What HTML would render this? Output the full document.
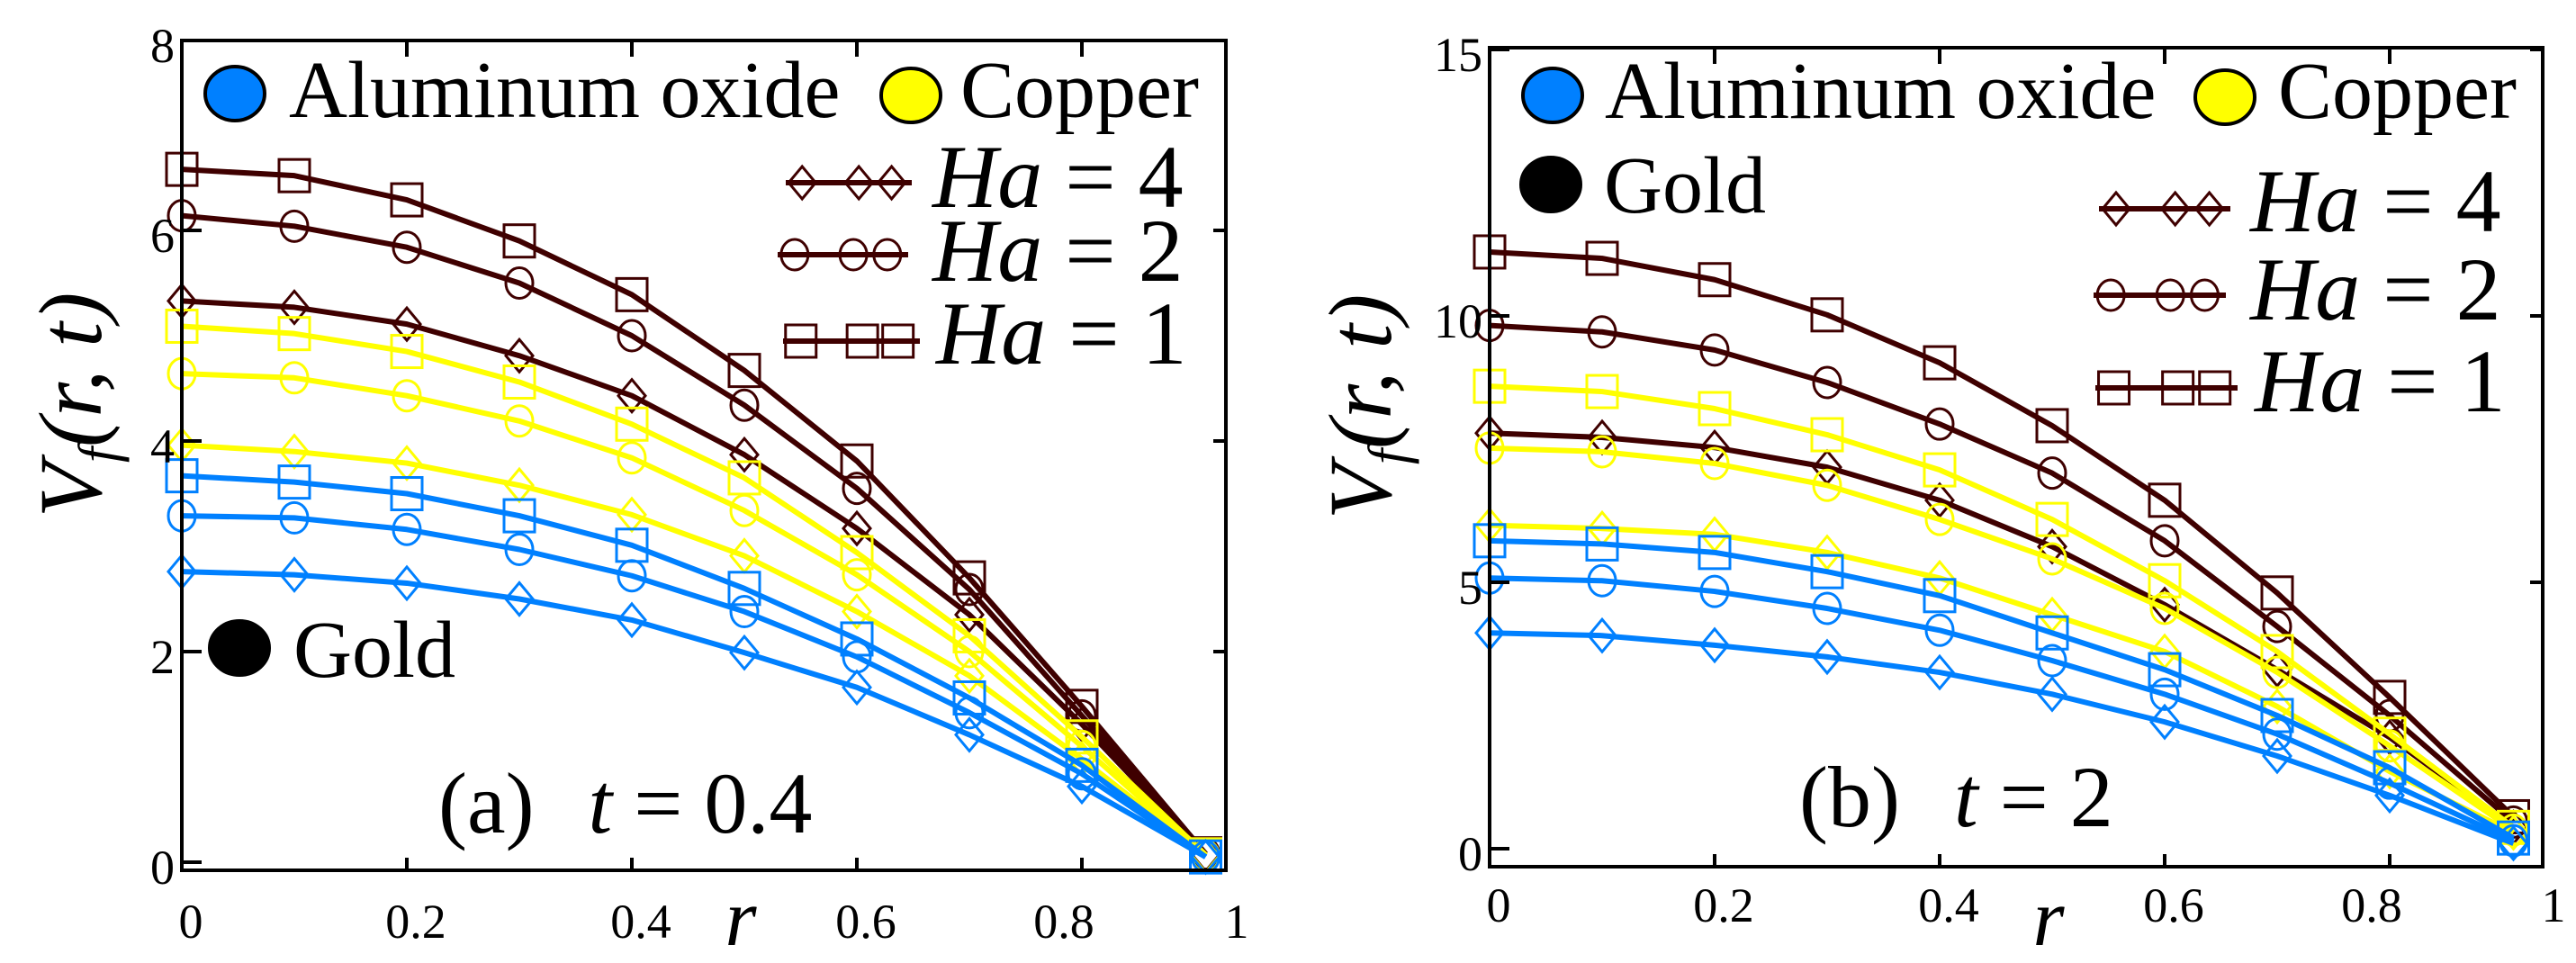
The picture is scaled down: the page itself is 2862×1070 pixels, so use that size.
<!DOCTYPE html>
<html><head><meta charset="utf-8"><style>
html,body{margin:0;padding:0;background:#fff;}
svg{display:block;}
svg, svg text, svg tspan{font-family:"Liberation Serif","DejaVu Serif",serif !important;}
</style></head><body>
<svg id="chart" width="2862" height="1070" viewBox="0 0 2862 1070" xmlns="http://www.w3.org/2000/svg" font-family="Liberation Serif, DejaVu Serif, serif"></svg>
<script>
// ---- data ----
const rValues = [0, 0.1, 0.2, 0.3, 0.4, 0.5, 0.6, 0.7, 0.8, 0.91];
const materials = ["Gold", "Copper", "Aluminum oxide"];
const hartmannNumbers = [1, 2, 4];
// panel (a) t = 0.4
const aGoldHa1 = [6.58, 6.52, 6.29, 5.90, 5.39, 4.67, 3.81, 2.70, 1.48, 0.08];
const aGoldHa2 = [6.14, 6.04, 5.84, 5.50, 5.00, 4.34, 3.55, 2.59, 1.39, 0.08];
const aGoldHa4 = [5.33, 5.27, 5.11, 4.81, 4.43, 3.87, 3.17, 2.35, 1.31, 0.07];
const aCopperHa1 = [5.09, 5.02, 4.85, 4.56, 4.16, 3.65, 2.94, 2.15, 1.19, 0.07];
const aCopperHa2 = [4.64, 4.60, 4.43, 4.19, 3.84, 3.34, 2.73, 2.00, 1.10, 0.06];
const aCopperHa4 = [3.96, 3.90, 3.79, 3.58, 3.30, 2.91, 2.38, 1.77, 0.98, 0.06];
const aAlHa1 = [3.67, 3.61, 3.50, 3.29, 3.01, 2.60, 2.12, 1.56, 0.92, 0.05];
const aAlHa2 = [3.29, 3.27, 3.16, 2.97, 2.72, 2.38, 1.95, 1.42, 0.84, 0.05];
const aAlHa4 = [2.76, 2.73, 2.65, 2.50, 2.30, 1.99, 1.66, 1.21, 0.72, 0.05];
// panel (b) t = 2
const bGoldHa1 = [11.2, 11.08, 10.68, 10.02, 9.12, 7.94, 6.54, 4.80, 2.84, 0.6];
const bGoldHa2 = [9.82, 9.70, 9.36, 8.75, 7.97, 7.05, 5.78, 4.17, 2.50, 0.5];
const bGoldHa4 = [7.80, 7.72, 7.53, 7.16, 6.54, 5.67, 4.58, 3.36, 2.09, 0.4];
const bCopperHa1 = [8.68, 8.58, 8.26, 7.77, 7.11, 6.18, 5.03, 3.70, 2.15, 0.4];
const bCopperHa2 = [7.52, 7.45, 7.23, 6.82, 6.18, 5.44, 4.51, 3.31, 1.93, 0.35];
const bCopperHa4 = [6.07, 6.01, 5.90, 5.56, 5.08, 4.39, 3.70, 2.67, 1.45, 0.3];
const bAlHa1 = [5.78, 5.72, 5.56, 5.20, 4.75, 4.05, 3.36, 2.50, 1.52, 0.2];
const bAlHa2 = [5.08, 5.03, 4.83, 4.51, 4.10, 3.53, 2.90, 2.15, 1.23, 0.15];
const bAlHa4 = [4.05, 4.00, 3.82, 3.60, 3.31, 2.90, 2.38, 1.74, 1.00, 0.1];
const xTickValues = [0, 0.2, 0.4, 0.6, 0.8];
const xTickLabels = ["0", "0.2", "0.4", "0.6", "0.8", "1"];
const aYTickValues = [0, 2, 4, 6, 8];
const aYTickLabels = ["0", "2", "4", "6", "8"];
const bYTickValues = [0, 5, 10, 15];
const bYTickLabels = ["0", "5", "10", "15"];

// ---- rendering ----
const NS = "http://www.w3.org/2000/svg";
const svg = document.getElementById("chart");
const FONT = '"Liberation Serif", "DejaVu Serif", serif';
const COLORS = {Gold: "#3f0000", Copper: "#ffff00", "Aluminum oxide": "#0080ff"};
const MARK = {1: "square", 2: "circle", 4: "diamond"};

function el(tag, attrs, parent) {
  const e = document.createElementNS(NS, tag);
  for (const k in attrs) e.setAttribute(k, attrs[k]);
  if (tag === "text") e.style.fontFamily = FONT;
  (parent || svg).appendChild(e);
  return e;
}
function marker(g, shape, x, y, color) {
  let m;
  if (shape === "square") m = el("rect", {x: x - 17, y: y - 18, width: 34, height: 36, fill: "none", stroke: color, "stroke-width": 3}, g);
  else if (shape === "circle") m = el("ellipse", {cx: x, cy: y, rx: 15, ry: 17, fill: "none", stroke: color, "stroke-width": 3}, g);
  else m = el("polygon", {points: `${x},${y - 18} ${x + 15},${y} ${x},${y + 18} ${x - 15},${y}`, fill: "none", stroke: color, "stroke-width": 3}, g);
  
  
}

function drawPanel(p) {
  const g = el("g", {});
  
  
  const X = r => p.x0 + r * p.xUnit;
  const Y = v => p.y0 - v * p.yUnit;
  p.series.forEach(s => {
    const sg = el("g", {}, g);
    
    
    const pts = rValues.map((r, i) => X(r) + "," + Y(s.vals[i])).join(" ");
    const line = el("polyline", {points: pts, fill: "none", stroke: COLORS[s.mat], "stroke-width": 6, "stroke-linejoin": "round"}, sg);
    
    
    rValues.forEach((r, i) => marker(sg, MARK[s.ha], X(r), Y(s.vals[i]), COLORS[s.mat]));
  });
  const fr = el("rect", {x: p.x0, y: p.top, width: p.right - p.x0, height: p.bottom - p.top, fill: "none", stroke: "#000", "stroke-width": 4}, g);
  
  
  xTickValues.forEach((v, i) => {
    if (i > 0) {
      el("line", {x1: X(v), x2: X(v), y1: p.bottom, y2: p.bottom - 14, stroke: "#000", "stroke-width": 4}, g);
      el("line", {x1: X(v), x2: X(v), y1: p.top, y2: p.top + 18, stroke: "#000", "stroke-width": 4}, g);
    }
    const t = el("text", {x: X(v) + (i === 4 ? -20 : 10), y: p.labelY, "font-size": 54, "text-anchor": "middle"}, g);
    t.textContent = xTickLabels[i];
    
    
  });
  const t1 = el("text", {x: p.right + 12, y: p.labelY, "font-size": 54, "text-anchor": "middle"}, g);
  t1.textContent = xTickLabels[5];
  
  
  p.yTicks.forEach((v, i) => {
    let yy = Y(v);
    if (yy < p.top) yy = p.top;
    if (i > 0 && Y(v) > p.top) {
      el("line", {x1: p.x0, x2: p.x0 + 22, y1: yy, y2: yy, stroke: "#000", "stroke-width": 4}, g);
      el("line", {x1: p.right, x2: p.right - 14, y1: yy, y2: yy, stroke: "#000", "stroke-width": 4}, g);
    }
    if (i === 0) el("line", {x1: p.x0, x2: p.x0 + 22, y1: yy, y2: yy, stroke: "#000", "stroke-width": 4}, g);
    const t = el("text", {x: p.x0 - 8, y: yy + 24, "font-size": 54, "text-anchor": "end"}, g);
    t.textContent = p.yLabels[i];
    
    
  });
  const yt = el("text", {transform: `translate(${p.yTitleX},${p.yTitleY}) rotate(-90)`, "font-size": 100, "font-style": "italic", "text-anchor": "middle"}, g);
  yt.innerHTML = 'V<tspan font-size="62" dy="18">f</tspan><tspan dy="-18">(r, t)</tspan>';
  
  
  const xt = el("text", {x: p.rX, y: 1050, "font-size": 90, "font-style": "italic", "text-anchor": "middle"}, g);
  xt.textContent = "r";
  
  
  p.matLegend.forEach(m => {
    const lg = el("g", {}, g);
    
    
    el("ellipse", {cx: m.cx, cy: m.cy, rx: 33, ry: 30, fill: m.mat === "Gold" ? "#000" : COLORS[m.mat], stroke: "#000", "stroke-width": 4}, lg);
    const t = el("text", {x: m.tx, y: m.ty, "font-size": 90}, lg);
    t.textContent = m.mat;
  });
  p.haLegend.forEach(h => {
    const lg = el("g", {}, g);
    
    
    el("line", {x1: h.x1, x2: h.x2, y1: h.y, y2: h.y, stroke: COLORS.Gold, "stroke-width": 6}, lg);
    const L = h.x2 - h.x1;
    [0.13, 0.58, 0.84].forEach(f => marker(lg, MARK[h.ha], h.x1 + f * L, h.y, COLORS.Gold));
    const t = el("text", {x: h.tx, y: h.ty, "font-size": 100}, lg);
    t.innerHTML = '<tspan font-style="italic">Ha</tspan> = ' + h.ha;
  });
  const cap = el("text", {x: p.capX, y: p.capY, "font-size": 96}, g);
  cap.innerHTML = p.capLetter + '<tspan dx="60" font-style="italic">t</tspan> = ' + p.capT;
  
  
}

drawPanel({
  name: "panel-a", x0: 202, xUnit: 1250, right: 1362, top: 45, bottom: 967, y0: 958, yUnit: 117,
  labelY: 1042, yTicks: aYTickValues, yLabels: aYTickLabels, yTitleX: 112, yTitleY: 450, rX: 823,
  series: [
    {mat: "Gold", ha: 1, vals: aGoldHa1}, {mat: "Gold", ha: 2, vals: aGoldHa2}, {mat: "Gold", ha: 4, vals: aGoldHa4},
    {mat: "Copper", ha: 1, vals: aCopperHa1}, {mat: "Copper", ha: 2, vals: aCopperHa2}, {mat: "Copper", ha: 4, vals: aCopperHa4},
    {mat: "Aluminum oxide", ha: 1, vals: aAlHa1}, {mat: "Aluminum oxide", ha: 2, vals: aAlHa2}, {mat: "Aluminum oxide", ha: 4, vals: aAlHa4}
  ],
  matLegend: [
    {mat: "Aluminum oxide", cx: 261, cy: 104, tx: 321, ty: 130},
    {mat: "Copper", cx: 1012, cy: 106, tx: 1067, ty: 130},
    {mat: "Gold", cx: 266, cy: 720, tx: 326, ty: 752}
  ],
  haLegend: [
    {ha: 4, x1: 873, x2: 1013, y: 203, tx: 1036, ty: 230},
    {ha: 2, x1: 864, x2: 1009, y: 283, tx: 1036, ty: 312},
    {ha: 1, x1: 870, x2: 1022, y: 379, tx: 1040, ty: 404}
  ],
  capLetter: "(a)", capT: "0.4", capX: 487, capY: 925
});
drawPanel({
  name: "panel-b", x0: 1655, xUnit: 1250, right: 2825, top: 53, bottom: 963, y0: 943, yUnit: 59.2,
  labelY: 1024, yTicks: bYTickValues, yLabels: bYTickLabels, yTitleX: 1545, yTitleY: 452, rX: 2276,
  series: [
    {mat: "Gold", ha: 1, vals: bGoldHa1}, {mat: "Gold", ha: 2, vals: bGoldHa2}, {mat: "Gold", ha: 4, vals: bGoldHa4},
    {mat: "Copper", ha: 1, vals: bCopperHa1}, {mat: "Copper", ha: 2, vals: bCopperHa2}, {mat: "Copper", ha: 4, vals: bCopperHa4},
    {mat: "Aluminum oxide", ha: 1, vals: bAlHa1}, {mat: "Aluminum oxide", ha: 2, vals: bAlHa2}, {mat: "Aluminum oxide", ha: 4, vals: bAlHa4}
  ],
  matLegend: [
    {mat: "Aluminum oxide", cx: 1725, cy: 106, tx: 1783, ty: 131},
    {mat: "Copper", cx: 2472, cy: 108, tx: 2531, ty: 131},
    {mat: "Gold", cx: 1723, cy: 205, tx: 1782, ty: 236}
  ],
  haLegend: [
    {ha: 4, x1: 2332, x2: 2478, y: 232, tx: 2500, ty: 257},
    {ha: 2, x1: 2326, x2: 2473, y: 328, tx: 2500, ty: 355},
    {ha: 1, x1: 2328, x2: 2486, y: 431, tx: 2505, ty: 457}
  ],
  capLetter: "(b)", capT: "2", capX: 1999, capY: 918
});
</script>
</body></html>
